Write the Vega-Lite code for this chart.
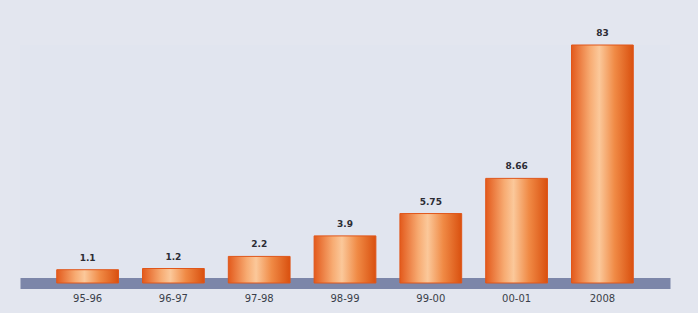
{
  "$schema": "https://vega.github.io/schema/vega-lite/v6.json",
  "autosize": "none",
  "width": 650,
  "height": 238,
  "padding": {"left": 20, "top": 45, "right": 28, "bottom": 30},
  "background": "#e3e6ef",
  "config": {"view": {"stroke": null, "fill": "#e1e5ef"}},
  "data": {"values": [
    {"period": "95-96", "value": 1.1, "label": "1.1"},
    {"period": "96-97", "value": 1.2, "label": "1.2"},
    {"period": "97-98", "value": 2.2, "label": "2.2"},
    {"period": "98-99", "value": 3.9, "label": "3.9"},
    {"period": "99-00", "value": 5.75, "label": "5.75"},
    {"period": "00-01", "value": 8.66, "label": "8.66"},
    {"period": "2008", "value": 83, "label": "83"}
  ]},
  "encoding": {
    "x": {"field": "period", "type": "nominal", "sort": null,
      "scale": {"paddingInner": 0.28, "paddingOuter": 0.428},
      "axis": {"title": null, "domain": true, "domainColor": "#7c86a9", "domainWidth": 11, "ticks": false, "labelAngle": 0, "zindex": 0,
        "labelFont": "DejaVu Sans", "labelFontSize": 10, "labelColor": "#3a3f4a", "labelPadding": 10}},
    "y": {"field": "value", "type": "quantitative",
      "scale": {"domain": [0, 19.7], "clamp": true, "nice": false},
      "axis": null}
  },
  "layer": [
    {
      "mark": {"type": "bar", "color": {"gradient": "linear", "x1": 0, "x2": 1, "y1": 0, "y2": 0,
        "stops": [
          {"offset": 0, "color": "#e35a1c"},
          {"offset": 0.3, "color": "#f7ab72"},
          {"offset": 0.45, "color": "#fbc89a"},
          {"offset": 0.7, "color": "#f08a45"},
          {"offset": 1, "color": "#d9500f"}
        ]}, "stroke": "#e0561a", "strokeWidth": 1}
    },
    {
      "mark": {"type": "text", "dy": -12, "font": "DejaVu Sans", "fontSize": 9, "fontWeight": "bold", "color": "#2c2c34"},
      "encoding": {"text": {"field": "label"}}
    }
  ]
}
